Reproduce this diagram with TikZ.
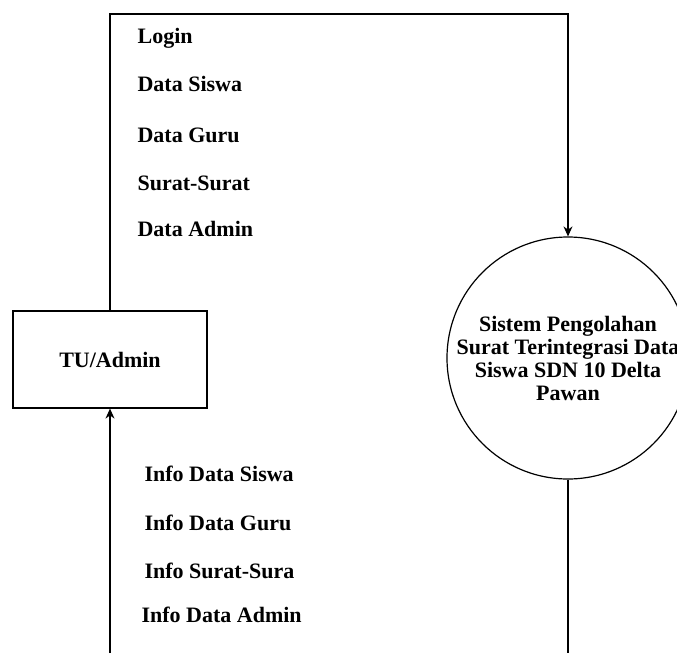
\documentclass[tikz,border=0pt]{standalone}
\usepackage{fontspec}
\setmainfont{Liberation Serif}
\usetikzlibrary{arrows.meta}
\tikzset{
  dfdnode/.style = {align=center, inner sep=0pt, text centered,
    font=\fontsize{22}{23}\selectfont\bfseries},
  nd_ent/.style = {dfdnode, rectangle, draw=black, line width=1.2pt, minimum width=194pt, minimum height=97pt},% entitas luar
  nd_proc/.style = {dfdnode, circle, draw=black, line width=1.2pt, minimum size=242pt},% proses
  nd_lbl/.style = {dfdnode, anchor=base west},% label aliran data
  flow/.style = {line width=1.2pt}
}
\begin{document}
\begin{tikzpicture}[x=1pt,y=-1pt,>={Stealth[length=10pt,width=9pt]},flow]
\useasboundingbox (0,0) rectangle (677,653);
\node [nd_ent] (tu) at (110,359.5) {TU/Admin};
\node [nd_proc] (sistem) at (568,358) {Sistem Pengolahan\\Surat Terintegrasi Data\\Siswa SDN 10 Delta\\Pawan};
\coordinate (kiri_atas) at (110,14);
\coordinate (kanan_atas) at (568,14);
\coordinate (kiri_bawah) at (110,653);
\coordinate (kanan_bawah) at (568,653);
% aliran masuk
\draw [->] (tu.north) -- (kiri_atas) -- (kanan_atas) -- (sistem.north);
% aliran keluar
\draw [->] (kiri_bawah) -- (tu.south);
\draw (sistem.south) -- (kanan_bawah);
% label masuk
\node [nd_lbl] (l_login) at (137,43) {Login};
\node [nd_lbl] (l_siswa) at (137,91) {Data Siswa};
\node [nd_lbl] (l_guru) at (137,142) {Data Guru};
\node [nd_lbl] (l_surat) at (137,190) {Surat-Surat};
\node [nd_lbl] (l_admin) at (137,236) {Data Admin};
% label keluar
\node [nd_lbl] (i_siswa) at (144,481) {Info Data Siswa};
\node [nd_lbl] (i_guru) at (144,530) {Info Data Guru};
\node [nd_lbl] (i_surat) at (144,578) {Info Surat-Sura};
\node [nd_lbl] (i_admin) at (141,622) {Info Data Admin};
\end{tikzpicture}
\end{document}
